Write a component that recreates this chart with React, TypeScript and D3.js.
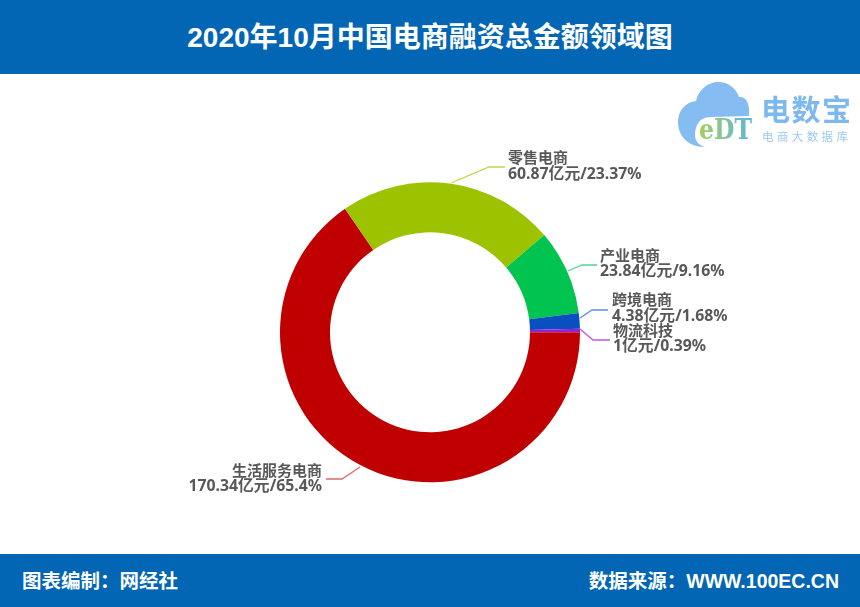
import React from "react";
import * as d3 from "d3";

const W = 860, H = 607;
const categories = ["生活服务电商", "零售电商", "产业电商", "跨境电商", "物流科技"];
const amounts = [170.34, 60.87, 23.84, 4.38, 1];
const amountLabels = ["170.34亿元/65.4%", "60.87亿元/23.37%", "23.84亿元/9.16%", "4.38亿元/1.68%", "1亿元/0.39%"];
const colors = ["#c00000", "#9dc300", "#00c350", "#0a4fc0", "#9a1fd0"];
const lineColors = ["#dd6a6a", "#bcd84a", "#4fd98c", "#5b8fe8", "#c455e6"];
const title = "2020年10月中国电商融资总金额领域图";
const footerLeft = "图表编制：网经社";
const footerRight = "数据来源：WWW.100EC.CN";

// leader-line layout per slice: start, elbow and end point, text anchor position
const elbows: [number, number][] = [[342, 479], [489, 167], [582, 265], [592, 310], [593, 340]];
const ends = [326, 505, 597, 608, 610];
const starts: [number, number][] = [[360, 467], [451, 183], [568, 271], [580, 318], [580, 329]];
const textX = [322, 508, 600, 612, 613];
const textY = [475.5, 163, 260.5, 305, 335.5];
const anchors = ["end", "start", "start", "start", "start"];

const cx = 430, cy = 332.3, outerR = 150, innerR = 100;
const pie = d3.pie<number>().sort(null).startAngle(Math.PI / 2).endAngle(Math.PI * 2.5);
const arc = d3.arc<d3.PieArcDatum<number>>().innerRadius(innerR).outerRadius(outerR);
const line = d3.line();
const FONT = "'Liberation Sans', 'Noto Sans CJK SC', sans-serif";
const LABEL = "'Noto Sans', 'Noto Sans CJK SC', sans-serif";

export default function App() {
  const slices = pie(amounts);
  return (
    <svg width={W} height={H} viewBox={`0 0 ${W} ${H}`}
      style={{ position: "absolute", left: 0, top: 0, display: "block", background: "#fff" }}>
      <defs>
        <filter id="soft"><feGaussianBlur stdDeviation="0.45" /></filter>
        <linearGradient id="edt" x1="0" y1="0" x2="1" y2="0">
          <stop offset="0" stopColor="#a6cf5a" />
          <stop offset="1" stopColor="#5db5e0" />
        </linearGradient>
      </defs>
      <rect width={W} height={74} fill="#0366b5" />
      <rect y={554} width={W} height={53} fill="#0366b5" />
      <text x={430} y={47} textAnchor="middle" fill="#fff" fontFamily={FONT} fontWeight={700} fontSize={28}>{title}</text>
      <text x={22} y={588} fill="#fff" fontFamily={FONT} fontWeight={700} fontSize={19.5}>{footerLeft}</text>
      <text x={839} y={588} textAnchor="end" fill="#fff" fontFamily={FONT} fontWeight={700} fontSize={19.5}>{footerRight}</text>

      <g filter="url(#soft)">
        <path d="M705 147 C688 147 678 136 678 122 C678 110 686 102 696 101 C698 90 708 82 718 82 C728 82 736 88 739 97 C746 96 750 103 749 116 L712 117 C700 116 695 125 695 135 C695 140 698 145 705 147 Z" fill="#85bdf2" />
        <text x={699} y={139} fill="url(#edt)" fontFamily="'DejaVu Serif', serif" fontWeight={700} fontSize={27} textLength={53} lengthAdjust="spacingAndGlyphs">eDT</text>
        <text x={761} y={121} fill="#7db8ee" fontFamily="'Noto Sans CJK SC'" fontWeight={700} fontSize={29} textLength={90}>电数宝</text>
        <text x={762} y={141} fill="#9cc9f2" fontFamily="'Noto Sans CJK SC'" fontSize={11.5} textLength={86}>电商大数据库</text>
      </g>

      <g transform={`translate(${cx},${cy})`}>
        {slices.map((s, i) => <path key={categories[i]} d={arc(s) ?? ""} fill={colors[i]} />)}
      </g>

      {slices.map((_, i) => (
        <path key={i} fill="none" stroke={lineColors[i]} strokeWidth={1.3}
          d={line([starts[i], elbows[i], [ends[i], elbows[i][1]]]) ?? ""} />
      ))}
      <g filter="url(#soft)">
        {slices.map((_, i) => (
          <text key={i} fill="#595959" fontFamily={LABEL} fontWeight={700} textAnchor={anchors[i]}>
            <tspan x={textX[i]} y={textY[i]} fontSize={15}>{categories[i]}</tspan>
            <tspan x={textX[i]} y={textY[i] + 15.8} fontSize={15.8}>{amountLabels[i]}</tspan>
          </text>
        ))}
      </g>
    </svg>
  );
}
